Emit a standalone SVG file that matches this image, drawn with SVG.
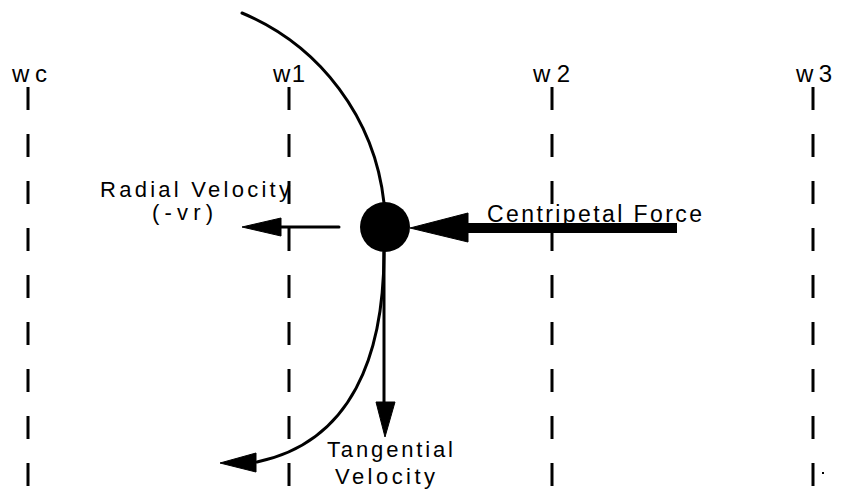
<svg xmlns="http://www.w3.org/2000/svg" width="841" height="500" viewBox="0 0 841 500">
  <style>
    .grid { stroke: #000; stroke-width: 3; stroke-dasharray: 23 24; fill: none; }
    .lbl { font-family: "Liberation Sans", Arial, sans-serif; fill: #000; }
    .wl { font-size: 24px; }
    .tl { font-size: 22px; }
    .ln { stroke: #000; fill: none; stroke-width: 3; stroke-linecap: round; }
    .hd { fill: #000; stroke: #000; stroke-width: 1; stroke-linejoin: round; }
  </style>
  <rect width="841" height="500" fill="#fff"/>

  <g id="gridlines">
    <g id="wc">
      <line class="grid" x1="28" y1="87" x2="28" y2="487"/>
      <text class="lbl wl" x="12" y="82" textLength="35" lengthAdjust="spacing">wc</text>
    </g>
    <g id="w1">
      <line class="grid" x1="289" y1="87" x2="289" y2="487"/>
      <text class="lbl wl" x="273" y="82" textLength="32" lengthAdjust="spacing">w1</text>
    </g>
    <g id="w2">
      <line class="grid" x1="552" y1="87" x2="552" y2="487"/>
      <text class="lbl wl" x="533" y="82" textLength="37" lengthAdjust="spacing">w2</text>
    </g>
    <g id="w3">
      <line class="grid" x1="813" y1="87" x2="813" y2="487"/>
      <text class="lbl wl" x="796" y="82" textLength="36" lengthAdjust="spacing">w3</text>
      <rect x="822" y="472" width="2" height="2" fill="#000"/>
    </g>
  </g>

  <g id="connectors">
    <path id="path-upper" class="ln" d="M242,13 A233,233 0 0 1 384,203"/>
    <path id="path-lower" class="ln" d="M384,252 C384,355 352,442 257,462"/>
    <polygon class="hd" points="220,463 256,453 256,472"/>

    <line id="radial" class="ln" x1="280" y1="227" x2="339" y2="227" stroke-width="2.5"/>
    <polygon class="hd" points="242,227 281,218 281,236"/>

    <rect id="centripetal" x="466" y="223" width="211" height="10" fill="#000"/>
    <polygon class="hd" points="410,228 468,213 468,242"/>

    <line id="tangential" class="ln" x1="384" y1="252" x2="384" y2="403" stroke-width="2.5"/>
    <polygon class="hd" points="385,437 376,402 395,402"/>
  </g>

  <g id="ball">
    <circle cx="385" cy="227" r="25" fill="#000"/>
  </g>

  <g id="labels">
    <text class="lbl tl" x="100" y="197" textLength="190" lengthAdjust="spacing">Radial Velocity</text>
    <text class="lbl tl" x="152" y="220" textLength="61" lengthAdjust="spacing">(-vr)</text>
    <text class="lbl" font-size="23" x="487" y="222" textLength="215" lengthAdjust="spacing">Centripetal Force</text>
    <text class="lbl tl" x="327" y="457" textLength="126" lengthAdjust="spacing">Tangential</text>
    <text class="lbl tl" x="335" y="484" textLength="100" lengthAdjust="spacing">Velocity</text>
  </g>
</svg>
